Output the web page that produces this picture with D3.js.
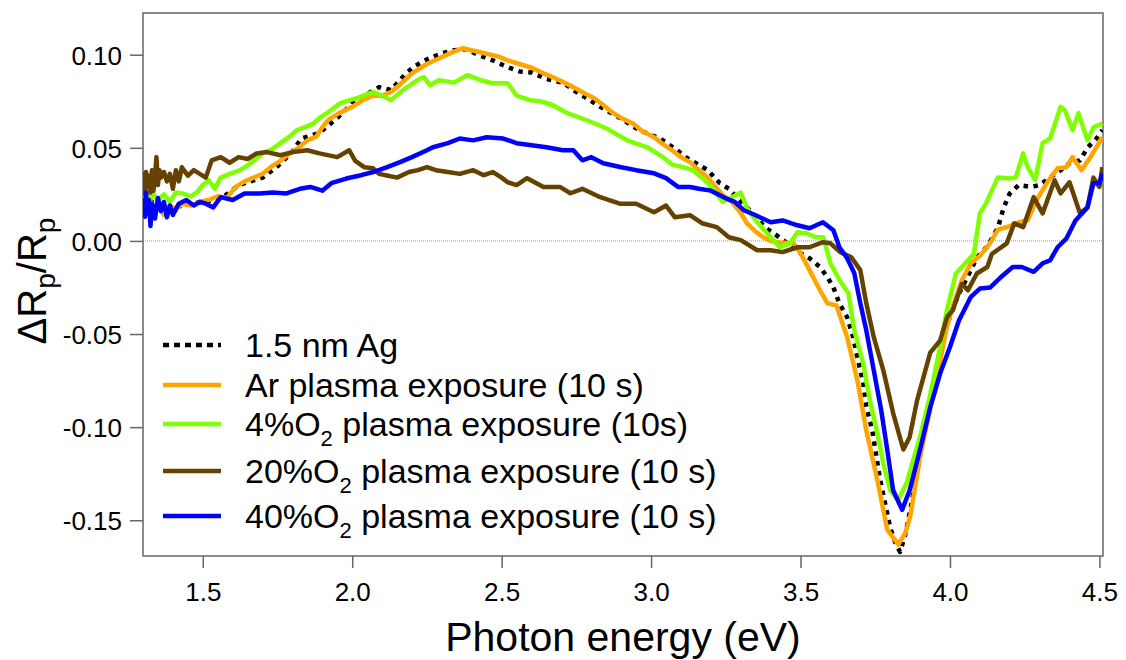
<!DOCTYPE html>
<html><head><meta charset="utf-8">
<script src="https://cdn.jsdelivr.net/npm/d3@7"></script>
<style>body{margin:0;background:#fff}svg{display:block}text{font-family:"Liberation Sans",Arial,sans-serif;fill:#000}</style>
</head><body><svg id="c" width="1126" height="660"></svg>
<script>
// ---------- data ----------
const xTickValues = [1.5, 2.0, 2.5, 3.0, 3.5, 4.0, 4.5];
const xTickLabels = ["1.5", "2.0", "2.5", "3.0", "3.5", "4.0", "4.5"];
const yTickValues = [-0.15, -0.10, -0.05, 0.00, 0.05, 0.10];
const yTickLabels = ["-0.15", "-0.10", "-0.05", "0.00", "0.05", "0.10"];

const ag15nm = [[1.30,0.026],[1.32,0.022],[1.35,0.019],[1.38,0.017],[1.41,0.018],[1.45,0.020],[1.50,0.021],[1.55,0.022],[1.58,0.025],[1.62,0.030],[1.66,0.032],[1.70,0.034],[1.75,0.040],[1.80,0.048],[1.83,0.055],[1.89,0.058],[1.95,0.066],[2.00,0.074],[2.04,0.078],[2.09,0.0826],[2.13,0.081],[2.18,0.090],[2.21,0.094],[2.25,0.0975],[2.30,0.1008],[2.34,0.1024],[2.38,0.1030],[2.42,0.1000],[2.47,0.0970],[2.52,0.0933],[2.56,0.0910],[2.60,0.0905],[2.65,0.0870],[2.705,0.0850],[2.75,0.0800],[2.795,0.0756],[2.83,0.0720],[2.896,0.0660],[2.96,0.0595],[3.03,0.0550],[3.087,0.0487],[3.12,0.0445],[3.15,0.0417],[3.19,0.0380],[3.23,0.0310],[3.26,0.0280],[3.29,0.0229],[3.34,0.0149],[3.38,0.0074],[3.42,0.0030],[3.465,-0.0023],[3.50,-0.0066],[3.53,-0.0093],[3.565,-0.0140],[3.59,-0.0195],[3.61,-0.0250],[3.63,-0.0335],[3.656,-0.0410],[3.676,-0.0517],[3.69,-0.0625],[3.71,-0.0765],[3.72,-0.0890],[3.74,-0.1017],[3.75,-0.1120],[3.765,-0.1270],[3.783,-0.1410],[3.80,-0.1540],[3.817,-0.1620],[3.833,-0.1670],[3.85,-0.1580],[3.87,-0.1420],[3.90,-0.1150],[3.93,-0.0880],[3.96,-0.0640],[3.99,-0.0450],[4.02,-0.0320],[4.04,-0.0250],[4.06,-0.0190],[4.09,-0.0090],[4.125,-0.0030],[4.16,0.0070],[4.18,0.0180],[4.20,0.0255],[4.23,0.0300],[4.27,0.0290],[4.30,0.0300],[4.335,0.0340],[4.37,0.0380],[4.40,0.0417],[4.435,0.0433],[4.46,0.0500],[4.49,0.0550],[4.51,0.0595]];

const arPlasma = [[1.30,0.028],[1.31,0.022],[1.32,0.025],[1.33,0.018],[1.35,0.020],[1.37,0.014],[1.39,0.019],[1.41,0.017],[1.43,0.020],[1.46,0.019],[1.49,0.021],[1.52,0.022],[1.55,0.024],[1.58,0.023],[1.61,0.029],[1.64,0.032],[1.67,0.034],[1.70,0.036],[1.73,0.040],[1.76,0.043],[1.79,0.047],[1.82,0.050],[1.85,0.054],[1.88,0.056],[1.90,0.061],[1.92,0.065],[1.96,0.069],[2.00,0.072],[2.04,0.076],[2.07,0.078],[2.10,0.078],[2.13,0.080],[2.16,0.084],[2.20,0.090],[2.25,0.095],[2.29,0.098],[2.33,0.101],[2.37,0.1035],[2.41,0.102],[2.45,0.1005],[2.49,0.099],[2.52,0.097],[2.56,0.095],[2.60,0.093],[2.64,0.090],[2.67,0.088],[2.71,0.085],[2.74,0.0826],[2.78,0.079],[2.81,0.0766],[2.84,0.073],[2.87,0.069],[2.90,0.066],[2.94,0.063],[2.97,0.059],[3.01,0.0557],[3.04,0.052],[3.07,0.0487],[3.10,0.045],[3.13,0.0423],[3.16,0.038],[3.19,0.034],[3.21,0.030],[3.24,0.0245],[3.27,0.021],[3.30,0.015],[3.32,0.0095],[3.35,0.005],[3.375,0.002],[3.40,0.000],[3.43,-0.001],[3.475,-0.001],[3.50,-0.0066],[3.53,-0.0157],[3.565,-0.0265],[3.59,-0.0335],[3.62,-0.0346],[3.656,-0.0517],[3.69,-0.0748],[3.72,-0.1017],[3.757,-0.1285],[3.79,-0.155],[3.827,-0.163],[3.85,-0.157],[3.867,-0.148],[3.90,-0.116],[3.94,-0.085],[3.97,-0.062],[3.99,-0.046],[4.01,-0.035],[4.04,-0.021],[4.07,-0.012],[4.10,-0.008],[4.135,-0.001],[4.16,0.006],[4.20,0.008],[4.23,0.010],[4.26,0.011],[4.29,0.022],[4.33,0.0325],[4.36,0.039],[4.39,0.0396],[4.41,0.045],[4.44,0.038],[4.47,0.045],[4.51,0.0557]];

const o2Plasma4 = [[1.30,0.019],[1.31,0.024],[1.32,0.020],[1.33,0.026],[1.35,0.022],[1.37,0.025],[1.39,0.021],[1.41,0.026],[1.43,0.0255],[1.46,0.024],[1.48,0.026],[1.50,0.030],[1.52,0.0326],[1.54,0.028],[1.56,0.034],[1.59,0.036],[1.625,0.038],[1.66,0.0417],[1.70,0.047],[1.73,0.049],[1.76,0.0525],[1.79,0.056],[1.815,0.0595],[1.84,0.061],[1.87,0.063],[1.89,0.066],[1.915,0.0686],[1.96,0.074],[2.02,0.077],[2.07,0.080],[2.10,0.078],[2.13,0.0756],[2.17,0.081],[2.217,0.0863],[2.24,0.088],[2.26,0.0836],[2.29,0.0863],[2.34,0.085],[2.385,0.089],[2.43,0.0863],[2.47,0.0847],[2.52,0.0847],[2.55,0.078],[2.595,0.0756],[2.63,0.075],[2.67,0.073],[2.72,0.0686],[2.785,0.0648],[2.85,0.0605],[2.92,0.054],[2.987,0.0503],[3.04,0.045],[3.07,0.041],[3.107,0.0396],[3.14,0.038],[3.17,0.034],[3.19,0.031],[3.22,0.025],[3.24,0.021],[3.27,0.0235],[3.30,0.026],[3.32,0.018],[3.35,0.011],[3.40,0.002],[3.43,-0.0034],[3.465,-0.0013],[3.49,0.0047],[3.52,0.0041],[3.55,0.002],[3.576,0.002],[3.60,-0.012],[3.63,-0.021],[3.66,-0.028],[3.68,-0.048],[3.71,-0.066],[3.73,-0.084],[3.755,-0.1017],[3.777,-0.1195],[3.80,-0.134],[3.827,-0.139],[3.855,-0.130],[3.90,-0.105],[3.93,-0.0855],[3.967,-0.057],[3.99,-0.037],[4.02,-0.0175],[4.06,-0.0104],[4.08,-0.007],[4.10,0.0148],[4.12,0.020],[4.16,0.034],[4.20,0.0335],[4.22,0.034],[4.245,0.047],[4.26,0.0396],[4.285,0.0326],[4.31,0.0525],[4.335,0.055],[4.37,0.072],[4.385,0.070],[4.41,0.0595],[4.43,0.0686],[4.46,0.054],[4.48,0.061],[4.51,0.063]];

const o2Plasma20 = [[1.30,0.030],[1.303,0.036],[1.307,0.025],[1.31,0.037],[1.315,0.029],[1.32,0.035],[1.325,0.026],[1.33,0.038],[1.335,0.027],[1.34,0.034],[1.345,0.045],[1.35,0.030],[1.355,0.038],[1.36,0.034],[1.37,0.037],[1.38,0.032],[1.39,0.036],[1.40,0.028],[1.41,0.038],[1.42,0.032],[1.43,0.0396],[1.45,0.035],[1.47,0.038],[1.49,0.036],[1.51,0.034],[1.53,0.0433],[1.56,0.045],[1.59,0.042],[1.62,0.045],[1.65,0.044],[1.68,0.047],[1.715,0.0477],[1.76,0.046],[1.80,0.0477],[1.85,0.0487],[1.89,0.047],[1.95,0.045],[1.99,0.0487],[2.01,0.043],[2.04,0.0396],[2.07,0.039],[2.09,0.036],[2.12,0.035],[2.15,0.034],[2.19,0.037],[2.22,0.038],[2.25,0.0396],[2.28,0.038],[2.32,0.037],[2.36,0.036],[2.405,0.038],[2.44,0.0353],[2.47,0.037],[2.50,0.034],[2.52,0.0315],[2.55,0.030],[2.585,0.0337],[2.64,0.029],[2.695,0.029],[2.73,0.0256],[2.77,0.028],[2.83,0.0235],[2.895,0.020],[2.95,0.020],[3.01,0.0154],[3.05,0.019],[3.08,0.0127],[3.13,0.0138],[3.17,0.0095],[3.22,0.0074],[3.26,0.002],[3.30,0.0004],[3.355,-0.005],[3.40,-0.005],[3.44,-0.006],[3.49,-0.0034],[3.53,-0.0034],[3.575,-0.0007],[3.60,-0.0013],[3.633,-0.006],[3.67,-0.0088],[3.70,-0.0157],[3.72,-0.0335],[3.745,-0.0517],[3.777,-0.0695],[3.81,-0.0926],[3.844,-0.112],[3.865,-0.1054],[3.89,-0.0856],[3.934,-0.060],[3.967,-0.0535],[3.99,-0.041],[4.01,-0.037],[4.04,-0.023],[4.06,-0.0265],[4.09,-0.0175],[4.125,-0.014],[4.14,-0.007],[4.19,-0.0013],[4.215,0.0095],[4.245,0.0074],[4.28,0.0235],[4.31,0.0148],[4.35,0.0326],[4.37,0.0255],[4.40,0.0315],[4.435,0.0148],[4.46,0.018],[4.48,0.034],[4.50,0.029],[4.51,0.0396]];

const o2Plasma40 = [[1.30,0.016],[1.303,0.022],[1.307,0.013],[1.31,0.026],[1.313,0.015],[1.32,0.022],[1.325,0.008],[1.33,0.020],[1.34,0.012],[1.35,0.023],[1.36,0.016],[1.37,0.021],[1.38,0.0127],[1.39,0.019],[1.40,0.014],[1.42,0.020],[1.445,0.022],[1.47,0.019],[1.49,0.021],[1.51,0.020],[1.535,0.018],[1.56,0.0235],[1.60,0.022],[1.64,0.0255],[1.69,0.0255],[1.735,0.026],[1.78,0.0255],[1.825,0.028],[1.86,0.029],[1.90,0.027],[1.93,0.031],[1.98,0.0335],[2.03,0.0353],[2.07,0.037],[2.117,0.0396],[2.16,0.0423],[2.20,0.045],[2.25,0.0487],[2.27,0.0503],[2.32,0.0525],[2.36,0.055],[2.405,0.054],[2.45,0.0557],[2.505,0.055],[2.55,0.0525],[2.60,0.0514],[2.65,0.0503],[2.705,0.0487],[2.74,0.0487],[2.77,0.0433],[2.80,0.045],[2.84,0.0417],[2.90,0.0396],[2.95,0.038],[3.01,0.0363],[3.05,0.0337],[3.09,0.029],[3.13,0.029],[3.16,0.028],[3.20,0.027],[3.25,0.0229],[3.28,0.021],[3.31,0.0165],[3.35,0.0138],[3.40,0.010],[3.44,0.011],[3.49,0.0084],[3.53,0.0068],[3.575,0.010],[3.61,0.0057],[3.63,-0.0034],[3.656,-0.0093],[3.68,-0.0174],[3.70,-0.0335],[3.72,-0.048],[3.745,-0.0695],[3.77,-0.091],[3.79,-0.112],[3.81,-0.134],[3.84,-0.1444],[3.865,-0.134],[3.90,-0.112],[3.934,-0.0894],[3.967,-0.0712],[4.00,-0.057],[4.03,-0.0427],[4.07,-0.030],[4.10,-0.0256],[4.135,-0.025],[4.17,-0.0195],[4.21,-0.014],[4.24,-0.014],[4.28,-0.0166],[4.31,-0.012],[4.335,-0.0104],[4.36,-0.0034],[4.39,0.0014],[4.42,0.011],[4.46,0.018],[4.48,0.031],[4.50,0.031],[4.51,0.0363]];

const seriesData = [ag15nm, arPlasma, o2Plasma4, o2Plasma20, o2Plasma40];
const seriesColors = ["#000000", "#FFA500", "#80FF00", "#654200", "#0000FF"];
const seriesDash = ["4.5,5.5", null, null, null, null];
const legendLabels = [
  [["1.5 nm Ag", false]],
  [["Ar plasma exposure (10 s)", false]],
  [["4%O", false], ["2", true], [" plasma exposure (10s)", false]],
  [["20%O", false], ["2", true], [" plasma exposure (10 s)", false]],
  [["40%O", false], ["2", true], [" plasma exposure (10 s)", false]]
];

// ---------- layout ----------
const L = 143, R = 1103, T = 13, B = 556;
const svg = d3.select("#c");
const x = d3.scaleLinear().domain([1.30, 4.512]).range([L, R]);
const y = d3.scaleLinear().domain([-0.1692, 0.1224]).range([B, T]);

svg.append("clipPath").attr("id", "clip").append("rect")
  .attr("x", L).attr("y", T).attr("width", R - L).attr("height", B - T);

// zero line
svg.append("line").attr("x1", L).attr("x2", R).attr("y1", y(0)).attr("y2", y(0))
  .attr("stroke", "#9a9a9a").attr("stroke-width", 1).attr("stroke-dasharray", "1,1");

// axes
const xAxis = svg.append("g").attr("transform", `translate(0,${B})`)
  .call(d3.axisBottom(x).tickValues(xTickValues).tickFormat((d, i) => xTickLabels[i])
    .tickSize(12).tickPadding(15).tickSizeOuter(0));
const yAxis = svg.append("g").attr("transform", `translate(${L},0)`)
  .call(d3.axisLeft(y).tickValues(yTickValues).tickFormat((d, i) => yTickLabels[i])
    .tickSize(13).tickPadding(8).tickSizeOuter(0));
[xAxis, yAxis].forEach(g => {
  g.select(".domain").remove();
  g.selectAll(".tick line").attr("stroke", "#666").attr("stroke-width", 1.5);
  g.selectAll(".tick text").style("font-size", "26px").attr("fill", "#000")
    .style("font-family", '"Liberation Sans", Arial, sans-serif');
});
yAxis.selectAll(".tick text").attr("dy", "0.36em");

// frame
svg.append("rect").attr("x", L).attr("y", T).attr("width", R - L).attr("height", B - T)
  .attr("fill", "none").attr("stroke", "#666").attr("stroke-width", 1.5);

// series
const line = d3.line().x(d => x(d[0])).y(d => y(d[1]));
const plot = svg.append("g").attr("clip-path", "url(#clip)");
seriesData.forEach((s, i) => {
  plot.append("path").datum(s).attr("d", line)
    .attr("fill", "none").attr("stroke", seriesColors[i]).attr("stroke-width", 4.5)
    .attr("stroke-linejoin", "round")
    .attr("stroke-dasharray", seriesDash[i]);
});

// legend
const legendLineY = [345, 385, 424, 471, 516];
legendLabels.forEach((parts, i) => {
  const ly = legendLineY[i];
  svg.append("line").attr("x1", 163).attr("x2", 221).attr("y1", ly).attr("y2", ly)
    .attr("stroke", seriesColors[i]).attr("stroke-width", 4.5)
    .attr("stroke-dasharray", i === 0 ? "6,5" : null);
  const t = svg.append("text").attr("x", 245).attr("y", ly + 12).style("font-size", "34px");
  parts.forEach(([txt, sub], k) => {
    const ts = t.append("tspan").text(txt);
    if (sub) ts.style("font-size", "22px").attr("dy", 10);
    else if (k > 0) ts.attr("dy", -10);
  });
});

// axis titles
svg.append("text").attr("x", 623).attr("y", 651).attr("text-anchor", "middle")
  .style("font-size", "41px").text("Photon energy (eV)");
const yt = svg.append("text").attr("transform", "translate(46,281) rotate(-90)")
  .attr("text-anchor", "middle").style("font-size", "40px");
yt.append("tspan").text("\u0394R");
yt.append("tspan").text("p").style("font-size", "28px").attr("dy", 9);
yt.append("tspan").text("/R").attr("dy", -9);
yt.append("tspan").text("p").style("font-size", "28px").attr("dy", 9);
</script></body></html>
